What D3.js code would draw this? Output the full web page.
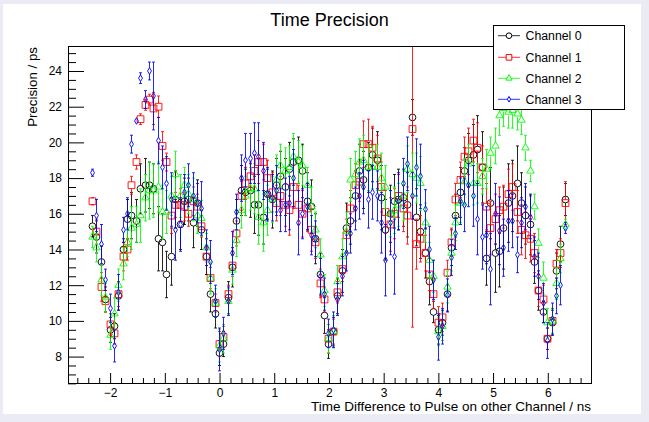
<!DOCTYPE html>
<html lang="en">
<head>
<meta charset="UTF-8" />
<title>Time Precision</title>
<script src="https://d3js.org/d3.v7.min.js"></script>
<style>
  body { margin: 0; background: #ebebf5; }
  svg { display: block; font-family: "Liberation Sans", Arial, Helvetica, sans-serif; }
</style>
</head>
<body>
<svg id="chart" width="649" height="422"></svg>
<script>
// time difference to pulse on other channel (ns), shared by all channels
const tDiff = [
  -2.33, -2.25, -2.17, -2.09, -2.01, -1.93, -1.85, -1.77, -1.69, -1.61,
  -1.53, -1.45, -1.37, -1.29, -1.21, -1.13, -1.05, -0.97, -0.89, -0.81,
  -0.73, -0.65, -0.57, -0.49, -0.41, -0.33, -0.25, -0.17, -0.09, -0.01,
  0.07, 0.15, 0.23, 0.31, 0.39, 0.47, 0.55, 0.63, 0.71, 0.79,
  0.87, 0.95, 1.03, 1.11, 1.19, 1.27, 1.35, 1.43, 1.51, 1.59,
  1.67, 1.75, 1.83, 1.91, 1.99, 2.07, 2.15, 2.23, 2.31, 2.39,
  2.47, 2.55, 2.63, 2.71, 2.79, 2.87, 2.95, 3.03, 3.11, 3.19,
  3.27, 3.35, 3.43, 3.51, 3.59, 3.67, 3.75, 3.83, 3.91, 3.99,
  4.07, 4.15, 4.23, 4.31, 4.39, 4.47, 4.55, 4.63, 4.71, 4.79,
  4.87, 4.95, 5.03, 5.11, 5.19, 5.27, 5.35, 5.43, 5.51, 5.59,
  5.67, 5.75, 5.83, 5.91, 5.99, 6.07, 6.15, 6.23, 6.31
];

// precision (ps) per channel
const ch0 = [
  15.3, 14.7, 13.3, 11.2, 9.5, 9.7, 11.4, 14.0, 15.7, 15.9,
  15.6, 17.4, 17.6, 17.6, 17.4, 14.6, 14.4, 12.6, 13.6, 16.8,
  15.4, 16.7, 16.8, 15.5, 16.6, 15.1, 13.6, 11.5, 10.4, 8.2,
  8.7, 11.3, 13.0, 15.6, 17.3, 17.2, 17.3, 16.5, 16.5, 15.8,
  17.1, 16.8, 17.6, 18.1, 17.5, 18.5, 18.9, 19.0, 18.4, 16.7,
  16.4, 14.6, 12.6, 10.3, 8.7, 9.4, 11.4, 12.8, 15.2, 15.6,
  17.0, 18.4, 17.9, 18.6, 19.3, 19.0, 16.9, 15.1, 16.0, 16.7,
  16.8, 16.9, 16.5, 21.4, 15.8, 15.0, 13.8, 12.2, 10.5, 9.5,
  9.9, 11.5, 14.1, 15.9, 17.2, 18.4, 19.0, 19.3, 19.6, 18.6,
  13.5, 16.6, 13.8, 13.9, 15.2, 16.6, 17.0, 17.7, 16.6, 15.9,
  15.4, 13.3, 11.7, 10.5, 9.0, 9.9, 12.8, 14.3, 16.8
];
const ch0Err = [
  0.6, 0.9, 0.9, 0.7, 0.7, 0.7, 0.8, 0.6, 1.1, 1.3,
  1.2, 1.4, 1.5, 1.3, 1.4, 1.8, 1.6, 1.3, 1.6, 1.6,
  1.4, 1.3, 1.2, 1.4, 1.3, 1.1, 1.0, 1.0, 0.8, 0.7,
  0.7, 0.9, 1.1, 1.2, 1.4, 1.3, 1.5, 1.6, 1.7, 1.5,
  1.4, 1.6, 1.5, 1.4, 1.6, 1.5, 1.3, 1.3, 1.5, 1.6,
  1.5, 1.4, 1.2, 1.0, 0.8, 0.8, 1.0, 1.2, 1.4, 1.3,
  1.4, 1.5, 1.6, 1.4, 1.5, 1.6, 1.8, 1.7, 1.6, 1.5,
  1.7, 1.6, 1.8, 1.0, 1.6, 1.5, 1.4, 1.3, 0.6, 0.8,
  0.7, 1.0, 1.0, 1.2, 1.4, 1.3, 1.5, 1.7, 1.9, 2.0,
  1.5, 2.0, 2.2, 2.0, 2.3, 2.2, 2.0, 2.1, 1.7, 1.6,
  1.7, 1.2, 1.1, 0.6, 0.6, 0.7, 1.0, 1.0, 0.9
];
const ch1 = [
  16.7, 15.0, 11.9, 11.1, 9.8, 9.3, 11.5, 13.6, 14.0, 17.6,
  18.9, 21.3, 22.1, 22.4, 21.9, 22.0, 19.8, 18.9, 15.9, 16.5,
  16.5, 16.4, 16.0, 16.7, 16.4, 15.3, 13.6, 12.4, 11.0, 8.7,
  9.1, 11.5, 13.1, 14.9, 17.0, 17.7, 18.1, 18.4, 18.9, 18.9,
  18.0, 17.2, 16.6, 17.0, 16.5, 16.2, 17.5, 16.5, 16.0, 16.3,
  15.1, 14.4, 12.1, 11.2, 9.0, 9.4, 11.6, 12.9, 14.8, 16.3,
  17.6, 17.8, 19.9, 19.9, 19.7, 19.1, 17.5, 16.1, 15.4, 16.0,
  17.0, 16.3, 15.9, 20.75, 14.3, 14.6, 13.8, 12.6, 11.5, 9.9,
  10.2, 12.7, 14.4, 16.8, 17.9, 19.2, 19.5, 20.1, 19.7, 18.6,
  16.4, 15.2, 15.7, 16.2, 16.4, 17.1, 17.5, 16.1, 15.1, 14.8,
  14.6, 13.8, 11.7, 11.2, 9.0, 10.0, 13.2, 13.8, 16.6
];
const ch1Err = [
  0.2, 0.7, 0.8, 0.6, 0.6, 0.6, 0.7, 0.8, 0.6, 0.5,
  0.4, 0.3, 0.3, 0.3, 0.9, 0.6, 0.8, 0.5, 1.0, 0.7,
  0.9, 0.8, 0.7, 0.8, 0.7, 0.6, 0.5, 0.6, 0.5, 0.7,
  0.6, 0.5, 0.6, 0.7, 0.8, 0.9, 0.8, 0.9, 1.2, 1.0,
  1.0, 1.1, 1.0, 1.1, 1.2, 1.4, 1.2, 1.1, 1.3, 1.3,
  1.2, 0.9, 0.8, 0.7, 0.8, 0.7, 0.6, 0.7, 0.9, 1.0,
  1.2, 1.1, 1.3, 1.4, 1.2, 1.3, 1.4, 1.2, 1.5, 1.4,
  1.2, 1.3, 1.6, 11.1, 1.4, 1.3, 1.0, 0.9, 0.8, 0.9,
  0.8, 0.7, 0.8, 0.9, 1.0, 1.1, 1.3, 1.2, 1.4, 1.2,
  1.3, 1.5, 1.4, 1.3, 1.2, 1.4, 1.3, 1.2, 1.4, 1.3,
  1.3, 1.1, 0.9, 0.8, 0.6, 0.7, 0.8, 0.8, 1.2
];
const ch2 = [
  14.7, 14.1, 12.3, 11.3, 9.2, 10.4, 12.0, 13.2, 14.4, 15.2,
  15.4, 15.9, 16.9, 17.3, 17.3, 17.5, 16.1, 16.1, 17.0, 18.2,
  17.0, 17.6, 17.1, 16.8, 15.9, 15.75, 14.1, 12.4, 11.0, 8.6,
  9.0, 11.1, 12.85, 14.5, 16.2, 17.0, 17.4, 17.4, 15.8, 15.5,
  16.2, 16.8, 17.9, 18.7, 18.4, 18.6, 19.2, 18.9, 18.7, 17.6,
  16.4, 15.1, 13.7, 11.7, 9.0, 9.4, 12.2, 13.6, 15.0, 17.9,
  18.2, 18.9, 19.0, 18.6, 18.6, 18.6, 18.0, 17.5, 16.0, 16.2,
  16.5, 17.0, 18.5, 18.2, 18.0, 17.7, 15.5, 13.4, 12.5, 9.4,
  9.7, 11.9, 13.8, 15.5, 16.6, 17.8, 18.8, 17.7, 17.7, 18.1,
  18.5, 19.4, 19.8, 21.5, 21.9, 21.7, 21.8, 21.6, 21.25, 19.7,
  18.4, 16.4, 14.35, 12.4, 9.9, 10.0, 12.1, 13.5, 15.4
];
const ch2Err = [
  0.6, 0.8, 0.9, 0.8, 0.8, 0.9, 0.9, 0.9, 0.8, 1.2,
  1.0, 1.5, 1.3, 1.6, 1.5, 1.4, 1.5, 1.2, 1.1, 1.3,
  1.2, 1.0, 1.1, 1.2, 1.0, 1.0, 0.8, 0.9, 0.8, 0.9,
  0.8, 0.7, 0.8, 0.9, 1.0, 1.1, 1.2, 1.4, 1.5, 1.6,
  1.4, 1.3, 1.4, 1.2, 1.3, 1.2, 1.3, 1.2, 1.1, 1.0,
  1.1, 1.0, 0.9, 0.9, 0.8, 0.9, 0.9, 1.0, 1.1, 1.2,
  1.3, 1.3, 1.4, 1.3, 1.2, 1.3, 1.4, 1.2, 1.3, 1.3,
  1.2, 1.4, 1.3, 1.2, 1.4, 1.5, 1.1, 1.0, 0.9, 0.8,
  0.8, 0.9, 1.0, 1.0, 1.1, 1.3, 1.1, 1.2, 1.1, 1.0,
  1.1, 0.9, 1.0, 1.1, 1.0, 0.9, 1.0, 0.9, 0.8, 0.7,
  0.6, 0.7, 0.8, 0.9, 0.8, 0.7, 0.9, 0.8, 0.3
];
const ch3 = [
  18.3, 15.9, 14.3, 12.3, 10.7, 8.6, 11.6, 15.1, 16.0, 19.9,
  21.2, 23.6, 22.4, 24.0, 22.6, 20.1, 18.6, 17.7, 16.8, 15.1,
  15.4, 17.2, 17.6, 17.0, 16.6, 16.3, 14.1, 13.3, 11.1, 8.4,
  9.3, 11.1, 13.8, 16.1, 18.0, 19.0, 19.1, 19.4, 19.2, 18.4,
  17.1, 16.9, 17.3, 16.2, 16.5, 16.6, 18.0, 15.5, 16.0, 16.4,
  14.8, 14.6, 12.5, 11.5, 9.3, 9.5, 11.2, 12.5, 13.8, 14.9,
  16.3, 17.0, 17.5, 16.8, 17.2, 17.0, 15.5, 13.4, 15.5, 13.6,
  16.7, 17.7, 18.8, 17.0, 18.6, 18.1, 16.25, 14.0, 12.3, 9.1,
  9.7, 11.45, 13.55, 14.9, 16.7, 16.5, 17.6, 17.0, 15.7, 14.7,
  14.8, 12.9, 16.0, 15.05, 14.1, 15.6, 15.6, 13.7, 15.5, 16.4,
  15.8, 13.6, 12.5, 11.0, 8.9, 10.1, 11.4, 12.0, 15.2
];
const ch3Err = [
  0.2, 0.9, 1.1, 0.6, 0.8, 0.9, 1.0, 0.7, 0.9, 0.5,
  0.1, 0.3, 0.5, 0.5, 1.9, 1.3, 1.2, 1.5, 1.5, 1.7,
  1.5, 1.0, 1.2, 1.3, 1.1, 1.5, 1.0, 1.2, 0.9, 1.2,
  0.9, 0.8, 1.2, 1.0, 1.3, 1.5, 1.4, 1.7, 1.9, 1.6,
  1.5, 1.3, 1.4, 1.2, 1.5, 1.5, 1.6, 1.8, 1.4, 1.3,
  1.1, 1.0, 1.0, 0.9, 0.8, 1.0, 0.9, 1.1, 1.0, 1.1,
  1.2, 1.3, 1.5, 1.6, 1.5, 1.4, 1.7, 2.0, 1.8, 2.1,
  1.6, 1.4, 1.5, 1.3, 1.6, 1.8, 1.1, 1.3, 1.1, 1.3,
  1.0, 0.9, 1.0, 0.9, 1.3, 1.5, 1.2, 1.7, 2.0, 1.8,
  1.6, 2.0, 1.7, 1.9, 1.6, 1.7, 1.5, 1.0, 1.4, 1.3,
  1.2, 1.1, 1.3, 1.1, 1.0, 0.9, 1.0, 1.1, 0.3
];

const channelNames = ["Channel 0", "Channel 1", "Channel 2", "Channel 3"];
const channelColors = ["#000000", "#ff0000", "#00ff00", "#0000ff"];
const xTicks = [-2, -1, 0, 1, 2, 3, 4, 5, 6];
const yTicks = [8, 10, 12, 14, 16, 18, 20, 22, 24];

const channels = [
  { name: channelNames[0], color: channelColors[0], y: ch0, err: ch0Err, shape: "circle" },
  { name: channelNames[1], color: channelColors[1], y: ch1, err: ch1Err, shape: "square" },
  { name: channelNames[2], color: channelColors[2], y: ch2, err: ch2Err, shape: "triangle" },
  { name: channelNames[3], color: channelColors[3], y: ch3, err: ch3Err, shape: "diamond" }
];

const W = 649, H = 422;
const frame = { left: 68, top: 46, right: 591, bottom: 383 };

const svg = d3.select("#chart");

// canvas
svg.append("rect").attr("x", 0).attr("y", 0).attr("width", W).attr("height", H).attr("fill", "#ebebf5");
svg.append("rect").attr("x", 3).attr("y", 4).attr("width", 638).attr("height", 410).attr("fill", "#ffffff");

const x = d3.scaleLinear().domain([-2.77, 6.79]).range([frame.left, frame.right]);
const y = d3.scaleLinear().domain([6.52, 25.4]).range([frame.bottom, frame.top]);

svg.append("clipPath").attr("id", "clip")
  .append("rect")
  .attr("x", frame.left).attr("y", frame.top)
  .attr("width", frame.right - frame.left).attr("height", frame.bottom - frame.top);

// marker shapes (ROOT open markers)
const symbols = {
  circle: { sym: d3.symbolCircle, size: 36, half: 3.4 },
  square: { sym: d3.symbolSquare, size: 46, half: 3.4 },
  triangle: { sym: d3.symbolTriangle, size: 24, half: 3.4 },
  diamond: { sym: d3.symbolDiamond, size: 13, half: 3.0 }
};

const plot = svg.append("g").attr("clip-path", "url(#clip)");

channels.forEach(ch => {
  const s = symbols[ch.shape];
  const g = plot.append("g");
  const pts = tDiff.map((t, i) => ({ t: t, v: ch.y[i], e: ch.err[i] }));

  // error bars, with a gap where the marker sits (snapped to the pixel grid)
  pts.forEach(d => {
    const cx = Math.round(x(d.t)) + 0.5, cy = y(d.v);
    const yTop = y(d.v + d.e), yBot = y(d.v - d.e);
    if (cy - s.half > yTop) {
      g.append("line").attr("x1", cx).attr("x2", cx).attr("y1", yTop).attr("y2", cy - s.half)
        .attr("stroke", ch.color).attr("stroke-opacity", 0.85);
      g.append("line").attr("x1", cx - 1.5).attr("x2", cx + 1.5).attr("y1", yTop).attr("y2", yTop)
        .attr("stroke", ch.color).attr("stroke-opacity", 0.85);
    }
    if (yBot > cy + s.half) {
      g.append("line").attr("x1", cx).attr("x2", cx).attr("y1", cy + s.half).attr("y2", yBot)
        .attr("stroke", ch.color).attr("stroke-opacity", 0.85);
      g.append("line").attr("x1", cx - 1.5).attr("x2", cx + 1.5).attr("y1", yBot).attr("y2", yBot)
        .attr("stroke", ch.color).attr("stroke-opacity", 0.85);
    }
  });

  g.selectAll("path.marker")
    .data(pts)
    .join("path")
    .attr("class", "marker")
    .attr("d", d3.symbol().type(s.sym).size(s.size))
    .attr("transform", d => `translate(${Math.round(x(d.t)) + 0.5},${y(d.v)})`)
    .attr("fill", "none")
    .attr("stroke", ch.color)
    .attr("stroke-width", 1)
    .attr("stroke-opacity", 0.9);
});

// frame
svg.append("rect")
  .attr("x", frame.left + 0.5).attr("y", frame.top + 0.5)
  .attr("width", frame.right - frame.left).attr("height", frame.bottom - frame.top)
  .attr("fill", "none").attr("stroke", "#000").attr("stroke-width", 1);

// axes: ticks drawn inside the frame
const xMinor = d3.range(-2.6, 6.8, 0.2).map(v => +v.toFixed(1)).filter(v => Math.abs(v - Math.round(v)) > 1e-6);
const yMinor = d3.range(6.5, 25.5, 0.5).filter(v => v % 2 !== 0);

const fontSize = 12;

svg.append("g").attr("transform", `translate(0,${frame.bottom})`)
  .call(d3.axisBottom(x).tickValues(xTicks).tickSize(-10).tickPadding(5).tickFormat(d3.format("")));
svg.append("g").attr("transform", `translate(0,${frame.bottom})`)
  .call(d3.axisBottom(x).tickValues(xMinor).tickSize(-5).tickFormat(""));

svg.append("g").attr("transform", `translate(${frame.left},0)`)
  .call(d3.axisLeft(y).tickValues(yTicks).tickSize(-16).tickPadding(6).tickFormat(d3.format("")));
svg.append("g").attr("transform", `translate(${frame.left},0)`)
  .call(d3.axisLeft(y).tickValues(yMinor).tickSize(-8).tickFormat(""));

svg.selectAll(".domain").remove();
svg.selectAll(".tick line").attr("stroke", "#000");
svg.selectAll(".tick text")
  .attr("font-family", "'Liberation Sans', Arial, sans-serif")
  .attr("font-size", fontSize).attr("fill", "#000");

// titles
svg.append("text").attr("x", 329.5).attr("y", 26).attr("text-anchor", "middle")
  .attr("font-size", 18).text("Time Precision");

svg.append("text").attr("x", frame.right).attr("y", 411).attr("text-anchor", "end")
  .attr("font-size", 13.5).text("Time Difference to Pulse on other Channel / ns");

svg.append("text")
  .attr("transform", `translate(37,${frame.top + 1}) rotate(-90)`)
  .attr("text-anchor", "end")
  .attr("font-size", 13.3).text("Precision / ps");

// legend
const leg = { x: 493.5, y: 25.5, w: 131, h: 84 };
svg.append("rect").attr("x", leg.x).attr("y", leg.y).attr("width", leg.w).attr("height", leg.h)
  .attr("fill", "#fff").attr("stroke", "#000").attr("stroke-width", 1);
const rowY = [35.7, 57.3, 78.3, 99.3];
channels.forEach((ch, i) => {
  const s = symbols[ch.shape];
  const ly = rowY[i];
  svg.append("line").attr("x1", 498).attr("x2", 520).attr("y1", ly).attr("y2", ly)
    .attr("stroke", ch.color).attr("stroke-opacity", 0.8);
  svg.append("path").attr("d", d3.symbol().type(s.sym).size(s.size * 0.7)())
    .attr("transform", `translate(509,${ly})`)
    .attr("fill", "#fff").attr("stroke", ch.color);
  svg.append("text").attr("x", 525.5).attr("y", ly + 4.3)
    .attr("font-size", 12.3).text(ch.name);
});
</script>
</body>
</html>
